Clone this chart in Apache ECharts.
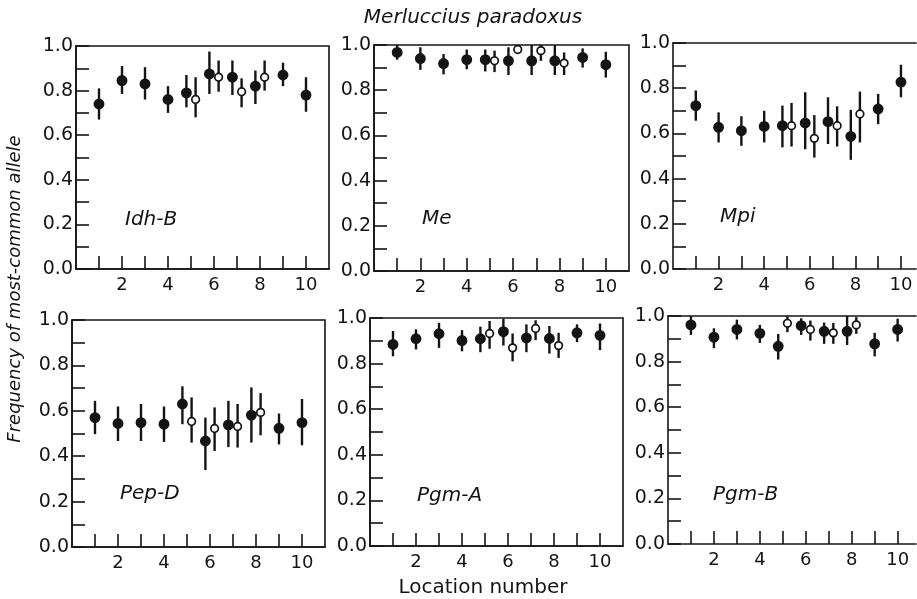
<!DOCTYPE html>
<html>
<head>
<meta charset="utf-8">
<script src="https://cdn.jsdelivr.net/npm/echarts@6/dist/echarts.min.js"></script>
<style>
html,body{margin:0;padding:0;background:#fff;}
#chart{width:917px;height:599px;}
</style>
</head>
<body>
<div id="chart"></div>
<script>
// ---------- data ----------
const title = 'Merluccius paradoxus';
const yAxisName = 'Frequency of most-common allele';
const xAxisName = 'Location number';
const loci = ['Idh-B', 'Me', 'Mpi', 'Pep-D', 'Pgm-A', 'Pgm-B'];
const locFilled = [1, 2, 3, 4, 5, 6, 7, 8, 9, 10];
const locOpen = [5, 6, 7, 8];
const xTicks = [1, 2, 3, 4, 5, 6, 7, 8, 9, 10];
const xTickLabels = [2, 4, 6, 8, 10];
const yTicks = [0, 0.1, 0.2, 0.3, 0.4, 0.5, 0.6, 0.7, 0.8, 0.9, 1.0];
const yTickLabels = [0.0, 0.2, 0.4, 0.6, 0.8, 1.0];

// Idh-B
const idhB_fMean = [0.74, 0.845, 0.83, 0.76, 0.79, 0.875, 0.86, 0.82, 0.87, 0.78];
const idhB_fLow  = [0.67, 0.785, 0.76, 0.70, 0.725, 0.785, 0.78, 0.74, 0.82, 0.705];
const idhB_fHigh = [0.81, 0.91, 0.905, 0.82, 0.87, 0.975, 0.935, 0.89, 0.925, 0.86];
const idhB_oMean = [0.76, 0.86, 0.795, 0.86];
const idhB_oLow  = [0.68, 0.795, 0.725, 0.80];
const idhB_oHigh = [0.86, 0.935, 0.855, 0.935];
// Me
const me_fMean = [0.967, 0.94, 0.918, 0.935, 0.935, 0.93, 0.93, 0.93, 0.945, 0.913];
const me_fLow  = [0.935, 0.89, 0.87, 0.893, 0.883, 0.867, 0.867, 0.867, 0.9, 0.856];
const me_fHigh = [1.0, 0.99, 0.96, 0.98, 0.98, 0.99, 1.0, 1.0, 0.985, 0.97];
const me_oMean = [0.93, 0.98, 0.975, 0.92];
const me_oLow  = [0.88, 0.96, 0.93, 0.867];
const me_oHigh = [0.975, 0.997, 1.0, 0.967];
// Mpi
const mpi_fMean = [0.723, 0.627, 0.612, 0.631, 0.634, 0.646, 0.652, 0.587, 0.708, 0.827];
const mpi_fLow  = [0.656, 0.56, 0.545, 0.56, 0.538, 0.53, 0.553, 0.483, 0.641, 0.76];
const mpi_fHigh = [0.79, 0.693, 0.676, 0.70, 0.723, 0.782, 0.76, 0.704, 0.775, 0.904];
const mpi_oMean = [0.634, 0.578, 0.634, 0.686];
const mpi_oLow  = [0.542, 0.493, 0.542, 0.56];
const mpi_oHigh = [0.735, 0.681, 0.72, 0.785];
// Pep-D
const pepD_fMean = [0.57, 0.544, 0.548, 0.541, 0.63, 0.467, 0.538, 0.581, 0.523, 0.548];
const pepD_fLow  = [0.497, 0.467, 0.467, 0.463, 0.541, 0.339, 0.44, 0.46, 0.452, 0.448];
const pepD_fHigh = [0.644, 0.619, 0.63, 0.619, 0.708, 0.57, 0.644, 0.703, 0.588, 0.652];
const pepD_oMean = [0.553, 0.522, 0.531, 0.593];
const pepD_oLow  = [0.46, 0.423, 0.438, 0.492];
const pepD_oHigh = [0.659, 0.615, 0.63, 0.678];
// Pgm-A
const pgmA_fMean = [0.884, 0.909, 0.931, 0.901, 0.909, 0.94, 0.913, 0.91, 0.935, 0.924];
const pgmA_fLow  = [0.832, 0.862, 0.869, 0.854, 0.85, 0.879, 0.85, 0.844, 0.894, 0.859];
const pgmA_fHigh = [0.943, 0.95, 0.979, 0.947, 0.962, 0.997, 0.972, 0.965, 0.972, 0.976];
const pgmA_oMean = [0.932, 0.869, 0.954, 0.879];
const pgmA_oLow  = [0.865, 0.81, 0.903, 0.825];
const pgmA_oHigh = [0.987, 0.932, 0.99, 0.935];
// Pgm-B
const pgmB_fMean = [0.961, 0.907, 0.941, 0.924, 0.867, 0.958, 0.933, 0.933, 0.878, 0.941];
const pgmB_fLow  = [0.917, 0.859, 0.897, 0.882, 0.809, 0.917, 0.878, 0.873, 0.823, 0.888];
const pgmB_fHigh = [0.999, 0.946, 0.984, 0.961, 0.921, 0.99, 0.971, 1.0, 0.926, 0.988];
const pgmB_oMean = [0.968, 0.941, 0.926, 0.961];
const pgmB_oLow  = [0.929, 0.892, 0.878, 0.922];
const pgmB_oHigh = [0.999, 0.98, 0.97, 0.995];

const panelData = [
  [idhB_fMean, idhB_fLow, idhB_fHigh, idhB_oMean, idhB_oLow, idhB_oHigh],
  [me_fMean, me_fLow, me_fHigh, me_oMean, me_oLow, me_oHigh],
  [mpi_fMean, mpi_fLow, mpi_fHigh, mpi_oMean, mpi_oLow, mpi_oHigh],
  [pepD_fMean, pepD_fLow, pepD_fHigh, pepD_oMean, pepD_oLow, pepD_oHigh],
  [pgmA_fMean, pgmA_fLow, pgmA_fHigh, pgmA_oMean, pgmA_oLow, pgmA_oHigh],
  [pgmB_fMean, pgmB_fLow, pgmB_fHigh, pgmB_oMean, pgmB_oLow, pgmB_oHigh]
];

// ---------- layout / style ----------
const INK = '#141414';
const FONT = 'DejaVu Sans';
const pairShift = 0.2; // paired samples drawn either side of the location tick
// panels in the right column run off the page edge (no right frame visible)
const grids = [
  {left: 76,  top: 46,  width: 253, height: 223, xMax: 11,    frame: true},
  {left: 374, top: 45,  width: 255, height: 226, xMax: 11,    frame: true},
  {left: 673, top: 43,  width: 243, height: 226, xMax: 10.66, frame: false},
  {left: 72,  top: 320, width: 253, height: 227, xMax: 11,    frame: true},
  {left: 370, top: 318, width: 253, height: 228, xMax: 11,    frame: true},
  {left: 668, top: 316, width: 248, height: 228, xMax: 10.8,  frame: false}
];
const lociLabelPos = [[125, 220], [422, 219], [720, 217], [120, 494], [417, 496], [713, 495]];

const chart = echarts.init(document.getElementById('chart'), null, {renderer: 'canvas'});

const gridOpts = grids.map(g => ({
  left: g.left, top: g.top, width: g.width, height: g.height,
  show: g.frame, borderColor: INK, borderWidth: 1.6, backgroundColor: 'transparent'
}));

const xAxes = grids.map((g, i) => ({
  type: 'value', gridIndex: i, min: 0, max: g.xMax, position: 'bottom',
  axisLine: {show: true, onZero: false, lineStyle: {color: INK, width: 1.6}},
  axisTick: {show: true, inside: true, length: 13, customValues: xTicks, lineStyle: {color: INK, width: 1.6}},
  splitLine: {show: false},
  axisLabel: {
    color: INK, fontFamily: FONT, fontSize: 18, margin: 7, customValues: xTickLabels,
    formatter: v => String(v)
  }
}));
// top frame line for the panels that run off the page
grids.forEach((g, i) => {
  if (!g.frame) {
    xAxes.push({
      type: 'value', gridIndex: i, min: 0, max: g.xMax, position: 'top',
      axisLine: {show: true, onZero: false, lineStyle: {color: INK, width: 1.6}},
      axisTick: {show: false}, axisLabel: {show: false}, splitLine: {show: false}
    });
  }
});

const yAxes = grids.map((g, i) => ({
  type: 'value', gridIndex: i, min: 0, max: 1,
  axisLine: {show: true, onZero: false, lineStyle: {color: INK, width: 1.6}},
  axisTick: {show: true, inside: true, length: 13, customValues: yTicks, lineStyle: {color: INK, width: 1.6}},
  splitLine: {show: false},
  axisLabel: {
    color: INK, fontFamily: FONT, fontSize: 19, margin: 3, customValues: yTickLabels,
    formatter: v => Number(v).toFixed(1)
  }
}));

function makeRender(filled) {
  return function (params, api) {
    const x = api.value(0), m = api.value(1), lo = api.value(2), hi = api.value(3);
    const pm = api.coord([x, m]);
    const pl = api.coord([x, lo]);
    const ph = api.coord([x, hi]);
    return {
      type: 'group',
      children: [
        {type: 'line', shape: {x1: pl[0], y1: pl[1], x2: ph[0], y2: ph[1]},
         style: {stroke: INK, lineWidth: 2.4}},
        {type: 'circle', shape: {cx: pm[0], cy: pm[1], r: filled ? 4.6 : 3.8},
         style: {fill: filled ? INK : '#fff', stroke: INK, lineWidth: 1.7}}
      ]
    };
  };
}

const series = [];
panelData.forEach((d, i) => {
  const [fM, fL, fH, oM, oL, oH] = d;
  const filledData = locFilled.map((loc, k) => {
    const xpos = locOpen.indexOf(loc) >= 0 ? loc - pairShift : loc;
    return [xpos, fM[k], fL[k], fH[k]];
  });
  const openData = locOpen.map((loc, k) => [loc + pairShift, oM[k], oL[k], oH[k]]);
  series.push({
    type: 'custom', xAxisIndex: i, yAxisIndex: i, renderItem: makeRender(true),
    data: filledData, clip: false, silent: true,
    encode: {x: 0, y: [1, 2, 3]}
  });
  series.push({
    type: 'custom', xAxisIndex: i, yAxisIndex: i, renderItem: makeRender(false),
    data: openData, clip: false, silent: true,
    encode: {x: 0, y: [1, 2, 3]}
  });
});

const graphics = [
  {type: 'text', x: 473, y: 18,
   style: {text: title, fill: INK, font: 'italic 20px "' + FONT + '"', textAlign: 'center', textVerticalAlign: 'middle'}},
  {type: 'text', x: 483, y: 588,
   style: {text: xAxisName, fill: INK, font: '20px "' + FONT + '"', textAlign: 'center', textVerticalAlign: 'middle'}},
  {type: 'text', x: 15, y: 289, rotation: Math.PI / 2,
   style: {text: yAxisName, fill: INK, font: 'italic 18px "' + FONT + '"', textAlign: 'center', textVerticalAlign: 'middle'}}
];
loci.forEach((name, i) => {
  graphics.push({
    type: 'text', x: lociLabelPos[i][0], y: lociLabelPos[i][1],
    style: {text: name, fill: INK, font: 'italic 20px "' + FONT + '"', textAlign: 'left', textVerticalAlign: 'middle'}
  });
});

chart.setOption({
  backgroundColor: '#fff',
  animation: false,
  grid: gridOpts,
  xAxis: xAxes,
  yAxis: yAxes,
  series: series,
  graphic: graphics
});
</script>
</body>
</html>
